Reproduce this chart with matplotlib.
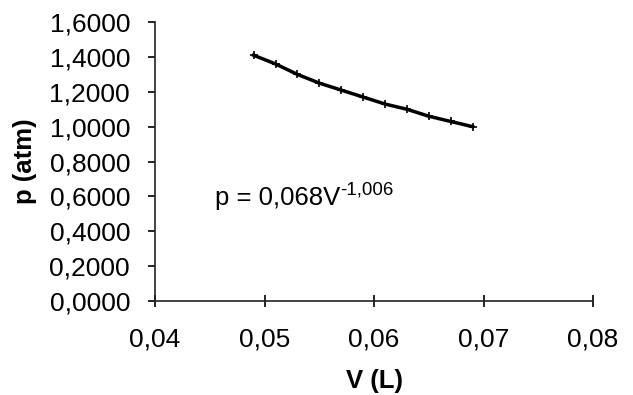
import matplotlib.pyplot as plt
from matplotlib.ticker import FuncFormatter

plt.rcParams['font.family'] = ['Liberation Sans', 'DejaVu Sans']

# dados
volume = [0.049, 0.051, 0.053, 0.055, 0.057, 0.059, 0.061, 0.063, 0.065, 0.067, 0.069]
pressao = [1.41, 1.36, 1.30, 1.25, 1.21, 1.17, 1.13, 1.10, 1.06, 1.03, 1.00]
x_ticks = [0.04, 0.05, 0.06, 0.07, 0.08]
y_ticks = [0.0, 0.2, 0.4, 0.6, 0.8, 1.0, 1.2, 1.4, 1.6]
equacao = 'p = 0,068V'
expoente = '-1,006'

fig = plt.figure(figsize=(6.33, 3.95), dpi=100)
ax = fig.add_axes([0.245, 0.238, 0.692, 0.706])

ax.plot(volume, pressao, color='black', lw=2.5, marker='+', ms=6, mew=1.2)

ax.set_xlim(0.04, 0.08)
ax.set_ylim(0, 1.6)
ax.set_xticks(x_ticks)
ax.set_yticks(y_ticks)
ax.xaxis.set_major_formatter(FuncFormatter(lambda v, p: f'{v:.2f}'.replace('.', ',')))
ax.yaxis.set_major_formatter(FuncFormatter(lambda v, p: f'{v:.4f}'.replace('.', ',')))

for s in ['top', 'right']:
    ax.spines[s].set_visible(False)
for s in ['left', 'bottom']:
    ax.spines[s].set_color('#222222')
    ax.spines[s].set_linewidth(1.2)

ax.tick_params(axis='y', direction='out', length=5, width=1.2, labelsize=19, pad=13)
ax.tick_params(axis='x', direction='inout', length=8, width=1.2, labelsize=19, pad=15)

ax.set_xlabel('V (L)', fontsize=18.5, fontweight='bold', labelpad=13)
ax.set_ylabel('p (atm)', fontsize=18.5, fontweight='bold', labelpad=9)

t = ax.text(0.0455, 0.59, equacao, fontsize=18.5, va='center', ha='left')
ax.annotate(expoente, xy=(1, 1), xycoords=t, xytext=(0, 3), textcoords='offset points',
            fontsize=13.5, va='top', ha='left')

fig.savefig('out.png', dpi=100)
